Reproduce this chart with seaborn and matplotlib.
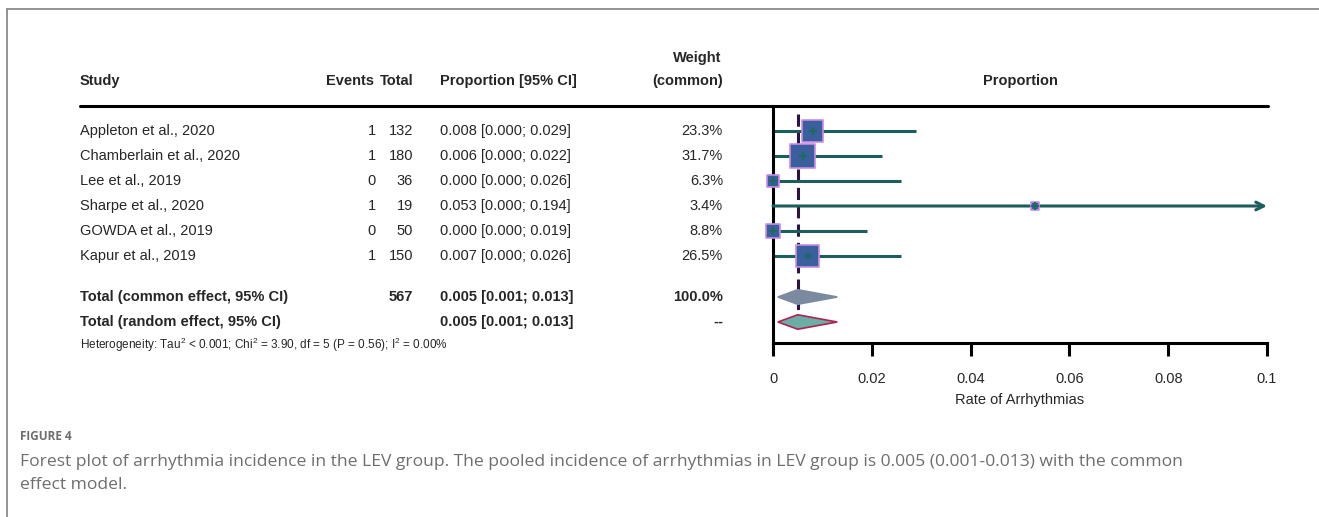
import numpy as np
import pandas as pd
import matplotlib
matplotlib.use("Agg")
import matplotlib.pyplot as plt
import seaborn as sns
from matplotlib.lines import Line2D

# ---------------- data ----------------
studies = ["Appleton et al., 2020", "Chamberlain et al., 2020", "Lee et al., 2019",
           "Sharpe et al., 2020", "GOWDA et al., 2019", "Kapur et al., 2019"]
events = [1, 1, 0, 1, 0, 1]
totals = [132, 180, 36, 19, 50, 150]
prop = [0.008, 0.006, 0.000, 0.053, 0.000, 0.007]
lower = [0.000, 0.000, 0.000, 0.000, 0.000, 0.000]
upper = [0.029, 0.022, 0.026, 0.194, 0.019, 0.026]
weights = [23.3, 31.7, 6.3, 3.4, 8.8, 26.5]

pooled_labels = ["Total (common effect, 95% CI)", "Total (random effect, 95% CI)"]
pooled_total = ["567", ""]
pooled_est = [0.005, 0.005]
pooled_lo = [0.001, 0.001]
pooled_hi = [0.013, 0.013]
pooled_weight = ["100.0%", "--"]

x_ticks = [0, 0.02, 0.04, 0.06, 0.08, 0.1]
x_ticklabels = ["0", "0.02", "0.04", "0.06", "0.08", "0.1"]

# ---------------- style ----------------
sns.set_theme(style="white")
plt.rcParams['font.family'] = ['Liberation Sans', 'DejaVu Sans']
plt.rcParams['mathtext.fontset'] = 'custom'
plt.rcParams['mathtext.rm'] = 'Liberation Sans'
plt.rcParams['mathtext.it'] = 'Liberation Sans'

tfam = ['Liberation Sans', 'DejaVu Sans']
fs = 10.5

W, H = 1319, 517
fig = plt.figure(figsize=(W / 100, H / 100), dpi=100)
fig.patch.set_facecolor("white")

def fx(px):
    return px / W

def fy(py):
    return 1 - py / H

# border lines (page frame)
fig.add_artist(Line2D([fx(7), 1.0], [fy(9), fy(9)], color="#8a8a8a", lw=1.3))
fig.add_artist(Line2D([fx(7), fx(7)], [fy(9), 0.0], color="#8a8a8a", lw=1.3))

# forest axes: x 773..1267 px, y 106..343 px
ax_l, ax_r, ax_t, ax_b = 773, 1267, 106, 343
ax = fig.add_axes([fx(ax_l), fy(ax_b), fx(ax_r - ax_l), (ax_b - ax_t) / H])
ax.set_xlim(0, 0.1)
row_y = np.arange(len(studies))
pooled_y = np.array([6.64, 7.64])
ax.set_ylim(8.48, -1.0)

teal = "#1b5e5b"
box_fill = "#3b5e9c"
box_edge = "#c98ce8"

df = pd.DataFrame({"study": studies, "prop": prop, "lo": lower, "hi": upper,
                   "w": weights, "row": row_y})

# CI lines
for r, lo, hi in zip(row_y, lower, upper):
    if hi > 0.1:
        ax.annotate("", xy=(0.1, r), xytext=(lo, r),
                    arrowprops=dict(arrowstyle="->", color=teal, lw=2.2,
                                    mutation_scale=14, shrinkA=0, shrinkB=0),
                    annotation_clip=False)
    else:
        ax.plot([lo, hi], [r, r], color=teal, lw=2.2, solid_capstyle="butt", zorder=2)

# vertical dashed line at pooled estimate
ax.plot([pooled_est[0], pooled_est[0]], [-0.7, 7.3], color="#2b1440", lw=2.2,
        ls=(0, (4, 2.0)), zorder=1)

# boxes sized by weight
sns.scatterplot(data=df, x="prop", y="row", size="w", sizes=(0, 1000), size_norm=(0, 100),
                marker="s", color=box_fill, edgecolor=box_edge, linewidth=1.2,
                legend=False, ax=ax, zorder=3, clip_on=False)
ax.scatter(df["prop"], df["row"], marker="|", s=30, color="#1f6a60", linewidths=1.5, zorder=4,
           clip_on=False)
ax.scatter(df["prop"], df["row"], marker="_", s=40, color="#1f6a60", linewidths=1.5, zorder=4,
           clip_on=False)

# diamonds
dh = 0.29
cols = [("#7b8a9e", "#7b8a9e"), ("#6aaea6", "#b3214e")]
for yy, est, lo, hi, (fc, ec) in zip(pooled_y, pooled_est, pooled_lo, pooled_hi, cols):
    ax.fill([lo, est, hi, est], [yy, yy - dh, yy, yy + dh], facecolor=fc, edgecolor=ec,
            lw=1.2, zorder=3, clip_on=False)

# axes styling
for s in ["top", "right"]:
    ax.spines[s].set_visible(False)
ax.spines["left"].set_color("black")
ax.spines["left"].set_linewidth(2.2)
ax.spines["bottom"].set_color("black")
ax.spines["bottom"].set_linewidth(2.2)
ax.set_yticks([])
ax.set_xticks(x_ticks)
ax.set_xticklabels(x_ticklabels)
ax.tick_params(axis="x", direction="out", length=9, width=2.2, color="black",
               labelsize=10.5, pad=12, bottom=True)
ax.set_xlabel("Rate of Arrhythmias", fontsize=10.5, labelpad=5)
ax.set_ylabel("")
ax.set_facecolor("white")

# header line
fig.add_artist(Line2D([fx(80), fx(1268)], [fy(106), fy(106)], color="black", lw=2.2))

# ---------------- table text ----------------
hdr_y = 81
kw = dict(fontsize=fs, family=tfam, va="center")
fig.text(fx(80), fy(hdr_y), "Study", fontweight="bold", ha="left", **kw)
fig.text(fx(374), fy(hdr_y), "Events", fontweight="bold", ha="right", **kw)
fig.text(fx(414), fy(hdr_y), "Total", fontweight="bold", ha="right", **kw)
fig.text(fx(440), fy(hdr_y), "Proportion [95% CI]", fontweight="bold", ha="left", **kw)
fig.text(fx(697), fy(58), "Weight", fontweight="bold", ha="center", **kw)
fig.text(fx(688), fy(hdr_y), "(common)", fontweight="bold", ha="center", **kw)
fig.text(fx(1020), fy(hdr_y), "Proportion", fontweight="bold", ha="center", **kw)

for i in range(len(studies)):
    yy = 131 + 25 * i
    fig.text(fx(80), fy(yy), studies[i], ha="left", **kw)
    fig.text(fx(376), fy(yy), str(events[i]), ha="right", **kw)
    fig.text(fx(413), fy(yy), str(totals[i]), ha="right", **kw)
    fig.text(fx(440), fy(yy), f"{prop[i]:.3f} [{lower[i]:.3f}; {upper[i]:.3f}]", ha="left", **kw)
    fig.text(fx(723), fy(yy), f"{weights[i]:.1f}%", ha="right", **kw)

for j in range(2):
    yy = 297 + 25 * j
    fig.text(fx(80), fy(yy), pooled_labels[j], fontweight="bold", ha="left", **kw)
    fig.text(fx(413), fy(yy), pooled_total[j], fontweight="bold", ha="right", **kw)
    fig.text(fx(440), fy(yy), f"{pooled_est[j]:.3f} [{pooled_lo[j]:.3f}; {pooled_hi[j]:.3f}]",
             fontweight="bold", ha="left", **kw)
    fig.text(fx(723), fy(yy), pooled_weight[j], fontweight="bold", ha="right", **kw)

fig.text(fx(80), fy(345),
         r"Heterogeneity: Tau$^{2}$ < 0.001; Chi$^{2}$ = 3.90, df = 5 (P = 0.56); I$^{2}$ = 0.00%",
         fontsize=8.5, va="center", ha="left")

# ---------------- caption ----------------
cap_color = "#6e6e6e"
cfam = ["Open Sans", "DejaVu Sans"]
fig.text(fx(20), fy(437), "FIGURE 4", fontsize=8.5, color=cap_color, fontweight="bold",
         family=cfam, va="center", ha="left")
fig.text(fx(20), fy(462),
         "Forest plot of arrhythmia incidence in the LEV group. The pooled incidence of arrhythmias in LEV group is 0.005 (0.001-0.013) with the common",
         fontsize=12.6, color=cap_color, family=cfam, va="center", ha="left")
fig.text(fx(20), fy(485), "effect model.", fontsize=12.6, color=cap_color,
         family=cfam, va="center", ha="left")

fig.savefig("out.png", dpi=100, facecolor="white")
